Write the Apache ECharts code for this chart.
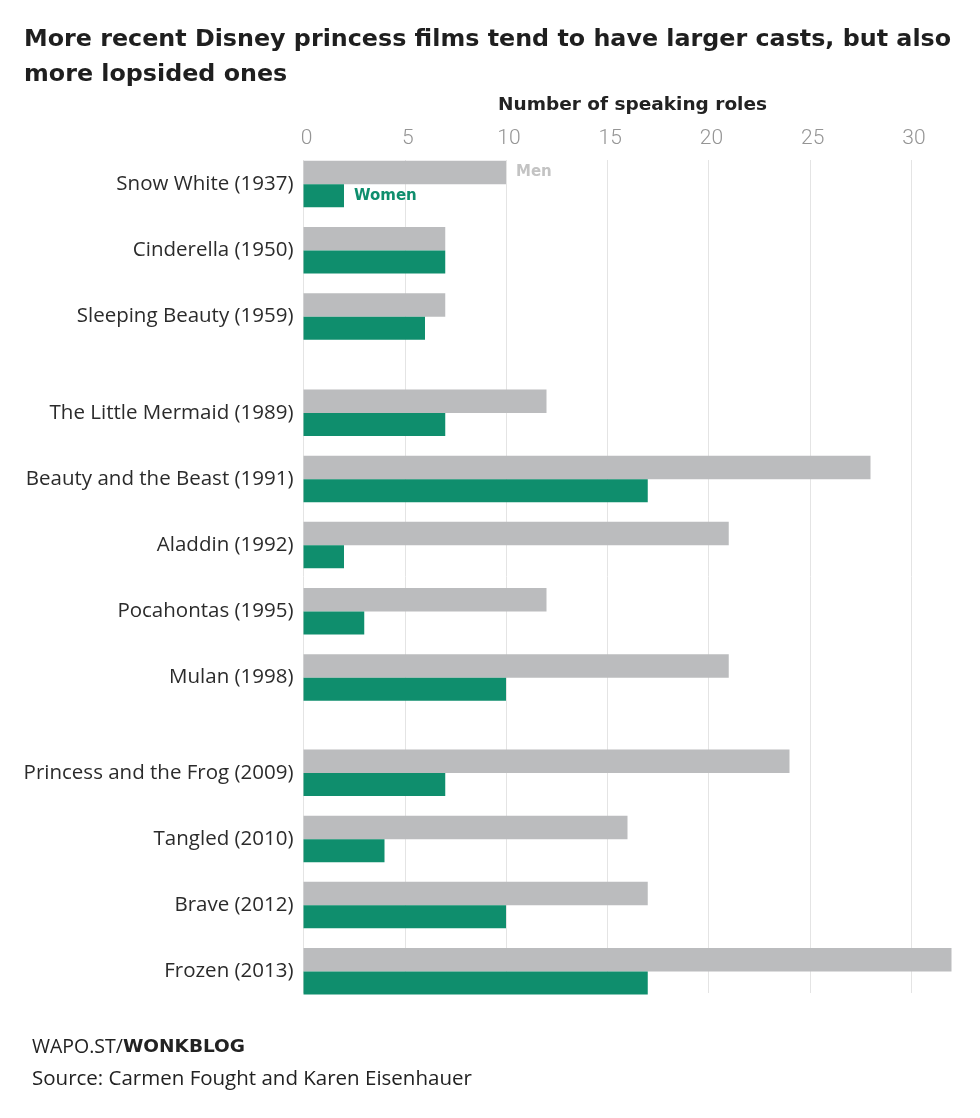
<!DOCTYPE html>
<html>
<head>
<meta charset="utf-8">
<script src="https://cdn.jsdelivr.net/npm/echarts@6/dist/echarts.min.js"></script>
<style>
html,body{margin:0;padding:0;background:#fff;}
#chart{width:980px;height:1118px;}
</style>
</head>
<body>
<div id="chart"></div>
<script>
// ---- data ----
const films = [
  'Snow White (1937)', 'Cinderella (1950)', 'Sleeping Beauty (1959)',
  'The Little Mermaid (1989)', 'Beauty and the Beast (1991)', 'Aladdin (1992)',
  'Pocahontas (1995)', 'Mulan (1998)',
  'Princess and the Frog (2009)', 'Tangled (2010)', 'Brave (2012)', 'Frozen (2013)'
];
const men   = [10, 7, 7, 12, 28, 21, 12, 21, 24, 16, 17, 32];
const women = [ 2, 7, 6,  7, 17,  2,  3, 10,  7,  4, 10, 17];
const groupSizes = [3, 5, 4];
const axisMax = 32;
const tickMax = 30;
const tickStep = 5;

// ---- layout ----
const MEN_COLOR = '#bbbcbe';
const WOMEN_COLOR = '#0f8e6d';
const FONT = '"Open Sans", "Liberation Sans", sans-serif';
const BOLD = '"DejaVu Sans", sans-serif';
const TICKFONT = 'Roboto, sans-serif';
const plotLeft = 303.5;
const pxPerUnit = 20.25;
const rowH = 66.2;
const groupTops = [151, 379.6, 739.6];
const W = 980;

const chart = echarts.init(document.getElementById('chart'), null, {renderer: 'canvas'});

const grids = [];
const xAxes = [];
const yAxes = [];
const series = [];

// background grid carrying gridlines and the top tick labels
grids.push({left: plotLeft, right: W - (plotLeft + tickMax * pxPerUnit), top: 160, height: 833, containLabel: false});
xAxes.push({
  gridIndex: 0, type: 'value', min: 0, max: tickMax, interval: tickStep, position: 'top',
  axisLine: {show: false}, axisTick: {show: false},
  splitLine: {show: true, lineStyle: {color: '#e4e4e4', width: 1}},
  axisLabel: {show: true, margin: 11, fontFamily: TICKFONT, fontWeight: 300, fontSize: 21, color: '#959595', padding: [0, 0, 0, 6]}
});
yAxes.push({gridIndex: 0, type: 'value', show: false});

let start = 0;
groupSizes.forEach((n, g) => {
  const gi = g + 1;
  grids.push({left: plotLeft, right: W - (plotLeft + axisMax * pxPerUnit), top: groupTops[g], height: rowH * n, containLabel: false});
  xAxes.push({gridIndex: gi, type: 'value', min: 0, max: axisMax, show: false, splitLine: {show: false}});
  yAxes.push({
    gridIndex: gi, type: 'category', inverse: true,
    data: films.slice(start, start + n),
    axisLine: {show: false}, axisTick: {show: false}, splitLine: {show: false},
    axisLabel: {margin: 10, fontFamily: FONT, fontSize: 20.5, color: '#2b2b2b'}
  });
  const mData = men.slice(start, start + n).map((v, i) => (g === 0 && i === 0) ? {
    value: v,
    label: {show: true, position: 'right', distance: 10, formatter: 'Men', fontFamily: BOLD, fontWeight: 'bold', fontSize: 15, color: '#c3c3c3'}
  } : v);
  const wData = women.slice(start, start + n).map((v, i) => (g === 0 && i === 0) ? {
    value: v,
    label: {show: true, position: 'right', distance: 10, formatter: 'Women', fontFamily: BOLD, fontWeight: 'bold', fontSize: 15, color: WOMEN_COLOR}
  } : v);
  series.push({
    type: 'bar', name: 'Men', xAxisIndex: gi, yAxisIndex: gi, data: mData,
    barWidth: 23.5, barGap: '0%', itemStyle: {color: MEN_COLOR}, silent: true, animation: false
  });
  series.push({
    type: 'bar', name: 'Women', xAxisIndex: gi, yAxisIndex: gi, data: wData,
    barWidth: 23, barGap: '0%', itemStyle: {color: WOMEN_COLOR}, silent: true, animation: false
  });
  start += n;
});

chart.setOption({
  animation: false,
  backgroundColor: '#fff',
  title: [
    {
      text: 'More recent Disney princess films tend to have larger casts, but also\nmore lopsided ones',
      left: 24, top: 22, padding: 0,
      textStyle: {fontFamily: BOLD, fontWeight: 'bold', fontSize: 23.8, color: '#1f1f1f', lineHeight: 35}
    },
    {
      text: 'Number of speaking roles',
      left: 498, top: 96, padding: 0,
      textStyle: {fontFamily: BOLD, fontWeight: 'bold', fontSize: 18.5, color: '#222'}
    },
    {
      text: '{a|WAPO.ST/}{b|WONKBLOG}',
      left: 32, top: 1037, padding: 0,
      textStyle: {
        fontWeight: 'normal',
        rich: {
          a: {fontFamily: FONT, fontSize: 19.5, fontWeight: 'normal', color: '#222'},
          b: {fontFamily: BOLD, fontSize: 18.5, fontWeight: 'bold', color: '#222'}
        }
      }
    },
    {
      text: 'Source: Carmen Fought and Karen Eisenhauer',
      left: 32, top: 1069, padding: 0,
      textStyle: {fontFamily: FONT, fontWeight: 'normal', fontSize: 20.5, color: '#222'}
    }
  ],
  grid: grids,
  xAxis: xAxes,
  yAxis: yAxes,
  series: series
});
</script>
</body>
</html>
